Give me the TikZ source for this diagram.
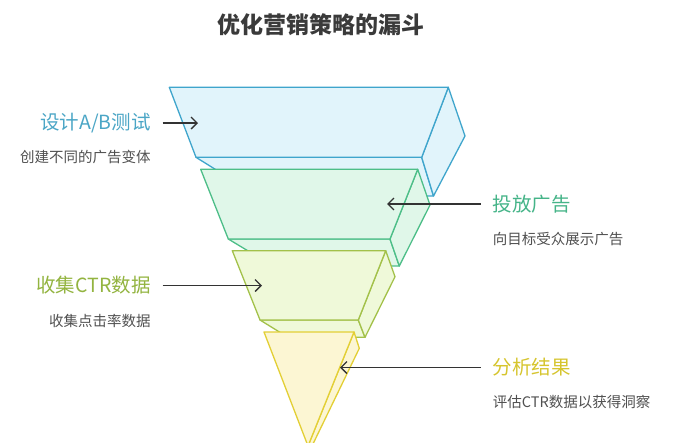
\documentclass[tikz,border=0pt]{standalone}
\usepackage{fontspec}
\setmainfont{Noto Sans CJK SC}
\usepackage{xcolor}
\usetikzlibrary{arrows.meta}
\definecolor{bluestroke}{HTML}{3FA5CC}
\definecolor{bluefill}{HTML}{E1F4FB}
\definecolor{greenstroke}{HTML}{4DBE88}
\definecolor{greenfill}{HTML}{E0F7E9}
\definecolor{limestroke}{HTML}{A3C14A}
\definecolor{limefill}{HTML}{EFF9D9}
\definecolor{yellowstroke}{HTML}{E3CF35}
\definecolor{yellowfill}{HTML}{FCF6D3}
\definecolor{bluetext}{HTML}{4BA6C6}
\definecolor{greentext}{HTML}{45B488}
\definecolor{limetext}{HTML}{93B440}
\definecolor{yellowtext}{HTML}{D6C52E}
\definecolor{descgray}{HTML}{505050}
\definecolor{titlegray}{HTML}{3A3A3A}
\tikzset{
  blue layer/.style={draw=bluestroke,fill=bluefill,line width=1.3pt,line join=round},
  green layer/.style={draw=greenstroke,fill=greenfill,line width=1.3pt,line join=round},
  lime layer/.style={draw=limestroke,fill=limefill,line width=1.3pt,line join=round},
  yellow layer/.style={draw=yellowstroke,fill=yellowfill,line width=1.3pt,line join=round},
  stage label/.style={font=\fontsize{19.5}{22}\selectfont,inner sep=0pt},
  desc/.style={font=\fontsize{14.5}{17}\selectfont,text=descgray,inner sep=0pt}
}

\begin{document}
\begin{tikzpicture}[x=1pt,y=-1pt,->,>={Straight Barb[length=6pt,width=12pt]},
                    pointer/.style={draw=black!80,line width=1.3pt}]
  \useasboundingbox[fill=white] (0,0) rectangle (675,442);
  \node[font=\fontsize{23}{26}\selectfont\bfseries,text=titlegray] (title) at (321,25) {优化营销策略的漏斗};

  % layer 1
  \path[blue layer] (196,157.3) -- (421.7,157.3) -- (433.5,196) -- (258,196) -- cycle;
  \path[blue layer] (448.3,87.3) -- (465,136) -- (433.5,196) -- (421.7,157.3) -- cycle;
  \path[blue layer] (169.3,87.3) -- (448.3,87.3) -- (421.7,157.3) -- (196,157.3) -- cycle;
  % layer 2
  \path[green layer] (228.3,239) -- (390,239) -- (399.3,266) -- (273,266) -- cycle;
  \path[green layer] (417.7,169.3) -- (430,205) -- (399.3,266) -- (390,239) -- cycle;
  \path[green layer] (200.7,169.3) -- (417.7,169.3) -- (390,239) -- (228.3,239) -- cycle;
  % layer 3
  \path[lime layer] (260,320) -- (358.3,320) -- (365,337.3) -- (288,337.3) -- cycle;
  \path[lime layer] (385.7,250.7) -- (395,276.7) -- (365,337.3) -- (358.3,320) -- cycle;
  \path[lime layer] (232.3,250.7) -- (385.7,250.7) -- (358.3,320) -- (260,320) -- cycle;
  % layer 4
  \path[yellow layer] (354,332) -- (359.3,348.3) -- (312,446) -- (308,446) -- cycle;
  \path[yellow layer] (264,332) -- (354,332) -- (308,446) -- cycle;

  % labels
  \node[stage label,text=bluetext,anchor=east] (design) at (150.7,123) {设计A/B测试};
  \node[desc,anchor=east] (design desc) at (150.7,157.3) {创建不同的广告变体};
  \node[stage label,text=greentext,anchor=west] (launch) at (492.7,204) {投放广告};
  \node[desc,anchor=west] (launch desc) at (492.7,239.3) {向目标受众展示广告};
  \node[stage label,text=limetext,anchor=east] (collect) at (150.7,285.5) {收集CTR数据};
  \node[desc,anchor=east] (collect desc) at (150.7,320.7) {收集点击率数据};
  \node[stage label,text=yellowtext,anchor=west] (analyse) at (492.7,367.5) {分析结果};
  \node[desc,anchor=west] (analyse desc) at (492.7,401.7) {评估CTR数据以获得洞察};

  \coordinate (design tip) at (198,123);
  \coordinate (launch tip) at (387,204);
  \coordinate (collect tip) at (262,285.5);
  \coordinate (analyse tip) at (340,367.5);
  \draw[pointer,shorten <=12pt] (design) -- (design tip);
  \draw[pointer,shorten <=12pt] (launch) -- (launch tip);
  \draw[pointer,shorten <=12pt] (collect) -- (collect tip);
  \draw[pointer,shorten <=12pt] (analyse) -- (analyse tip);
\end{tikzpicture}
\end{document}
